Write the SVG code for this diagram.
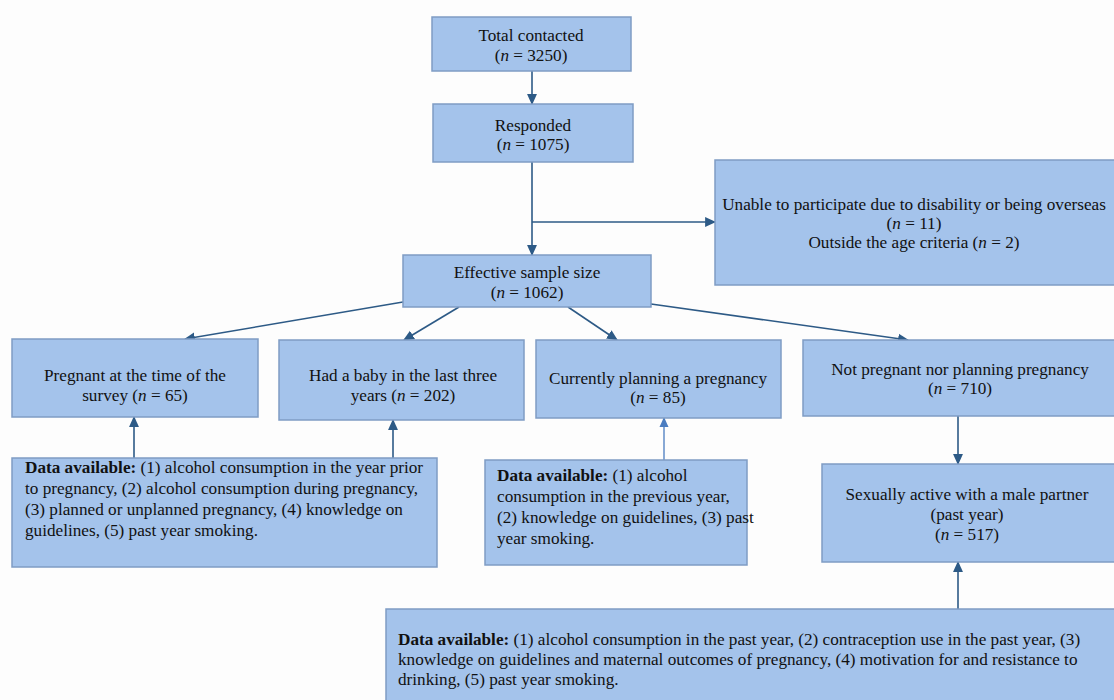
<svg xmlns="http://www.w3.org/2000/svg" width="1114" height="700" viewBox="0 0 1114 700">
<style>
.box{fill:#a4c3eb;stroke:#7f9cc4;stroke-width:1.5}
text{font-family:"Liberation Serif","Times New Roman",serif;font-size:17.2px;fill:#111}
.c{text-anchor:middle}
.con{stroke:#2d5a86;stroke-width:1.6;fill:none}
</style>
<defs>
<marker id="ah" viewBox="0 0 10 10" refX="9" refY="5" markerWidth="11" markerHeight="11" orient="auto" markerUnits="userSpaceOnUse">
<path d="M0,0.5 L10,5 L0,9.5 z" fill="#2d5a86"/>
</marker>
<marker id="ah2" viewBox="0 0 10 10" refX="9" refY="5" markerWidth="10" markerHeight="10" orient="auto" markerUnits="userSpaceOnUse">
<path d="M0,0.5 L10,5 L0,9.5 z" fill="#4a7cc0"/>
</marker>
</defs>
<rect width="1114" height="700" fill="#fdfdfd"/>
<g id="connectors">
<line class="con" x1="532" y1="71" x2="532" y2="104" marker-end="url(#ah)"/>
<line class="con" x1="532" y1="162" x2="532" y2="255" marker-end="url(#ah)"/>
<line class="con" x1="532" y1="222" x2="715" y2="222" marker-end="url(#ah)"/>
<line class="con" x1="403" y1="302" x2="185" y2="339" marker-end="url(#ah)"/>
<line class="con" x1="459" y1="307" x2="404" y2="340" marker-end="url(#ah)"/>
<line class="con" x1="568" y1="307" x2="617" y2="340" marker-end="url(#ah)"/>
<line class="con" x1="651" y1="304" x2="908" y2="340" marker-end="url(#ah)"/>
<line class="con" x1="134" y1="458" x2="134" y2="417" marker-end="url(#ah)"/>
<line class="con" x1="393" y1="458" x2="393" y2="420" marker-end="url(#ah)"/>
<line x1="664" y1="460" x2="664" y2="418" stroke="#4a7cc0" stroke-width="1.3" marker-end="url(#ah2)"/>
<line class="con" x1="958" y1="416" x2="958" y2="464" marker-end="url(#ah)"/>
<line class="con" x1="958" y1="609" x2="958" y2="562" marker-end="url(#ah)"/>
</g>
<g id="total">
<rect class="box" x="432" y="17" width="199" height="54"/>
<text class="c" x="531" y="41">Total contacted</text>
<text class="c" x="531" y="61">(<tspan font-style="italic">n</tspan> = 3250)</text>
</g>
<g id="responded">
<rect class="box" x="433" y="104" width="200" height="58"/>
<text class="c" x="533" y="131">Responded</text>
<text class="c" x="533" y="150">(<tspan font-style="italic">n</tspan> = 1075)</text>
</g>
<g id="excluded">
<rect class="box" x="715" y="160" width="402" height="125"/>
<text class="c" x="914" y="210">Unable to participate due to disability or being overseas</text>
<text class="c" x="914" y="229">(<tspan font-style="italic">n</tspan> = 11)</text>
<text class="c" x="914" y="248">Outside the age criteria (<tspan font-style="italic">n</tspan> = 2)</text>
</g>
<g id="effective">
<rect class="box" x="403" y="255" width="248" height="52"/>
<text class="c" x="527" y="278">Effective sample size</text>
<text class="c" x="527" y="298">(<tspan font-style="italic">n</tspan> = 1062)</text>
</g>
<g id="pregnant">
<rect class="box" x="12" y="339" width="246" height="78"/>
<text class="c" x="135" y="381">Pregnant at the time of the</text>
<text class="c" x="135" y="401">survey (<tspan font-style="italic">n</tspan> = 65)</text>
</g>
<g id="baby">
<rect class="box" x="279" y="340" width="245" height="80"/>
<text class="c" x="403" y="381">Had a baby in the last three</text>
<text class="c" x="403" y="401">years (<tspan font-style="italic">n</tspan> = 202)</text>
</g>
<g id="planning">
<rect class="box" x="536" y="340" width="245" height="78"/>
<text class="c" x="658" y="384">Currently planning a pregnancy</text>
<text class="c" x="658" y="403">(<tspan font-style="italic">n</tspan> = 85)</text>
</g>
<g id="notpregnant">
<rect class="box" x="803" y="340" width="312" height="76"/>
<text class="c" x="960" y="375">Not pregnant nor planning pregnancy</text>
<text class="c" x="960" y="394">(<tspan font-style="italic">n</tspan> = 710)</text>
</g>
<g id="data1">
<rect class="box" x="12" y="458" width="425" height="109"/>
<text x="25" y="473"><tspan font-weight="bold">Data available:</tspan> (1) alcohol consumption in the year prior</text>
<text x="25" y="494">to pregnancy, (2) alcohol consumption during pregnancy,</text>
<text x="25" y="515">(3) planned or unplanned pregnancy, (4) knowledge on</text>
<text x="25" y="536">guidelines, (5) past year smoking.</text>
</g>
<g id="data2">
<rect class="box" x="485" y="460" width="262" height="105"/>
<text x="497" y="481"><tspan font-weight="bold">Data available:</tspan> (1) alcohol</text>
<text x="497" y="502">consumption in the previous year,</text>
<text x="497" y="523">(2) knowledge on guidelines, (3) past</text>
<text x="497" y="544">year smoking.</text>
</g>
<g id="sexual">
<rect class="box" x="822" y="464" width="293" height="98"/>
<text class="c" x="967" y="500">Sexually active with a male partner</text>
<text class="c" x="967" y="520">(past year)</text>
<text class="c" x="967" y="540">(<tspan font-style="italic">n</tspan> = 517)</text>
</g>
<g id="data3">
<rect class="box" x="386" y="609" width="730" height="93"/>
<text x="398" y="645"><tspan font-weight="bold">Data available:</tspan> (1) alcohol consumption in the past year, (2) contraception use in the past year, (3)</text>
<text x="398" y="665">knowledge on guidelines and maternal outcomes of pregnancy, (4) motivation for and resistance to</text>
<text x="398" y="685">drinking, (5) past year smoking.</text>
</g>
</svg>
